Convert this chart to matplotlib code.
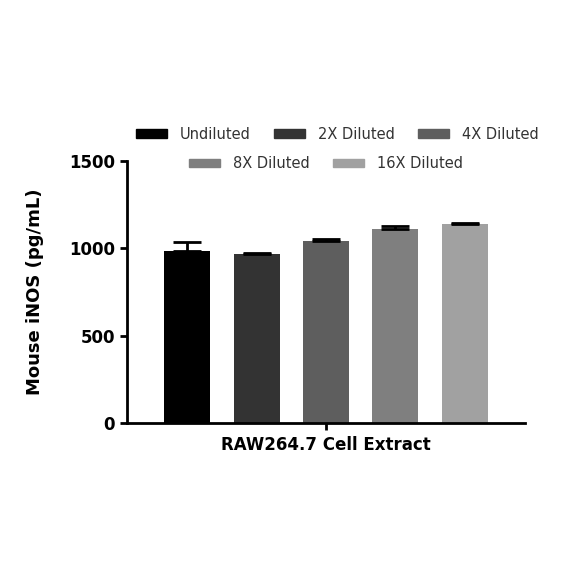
import matplotlib.pyplot as plt
from matplotlib.patches import Patch

labels = ["Undiluted", "2X Diluted", "4X Diluted", "8X Diluted", "16X Diluted"]
means = [982, 966, 1043, 1111, 1138]
sems = [52, 6, 12, 17, 8]
colors = ["#000000", "#333333", "#5e5e5e", "#7f7f7f", "#a1a1a1"]

plt.rcParams['font.family'] = ['DejaVu Sans']

fig = plt.figure(figsize=(5.84, 5.84), dpi=100)
ax = fig.add_axes([0.2175, 0.2757, 0.6815, 0.4486])

x = [0, 1, 2, 3, 4]
for i in range(len(labels)):
    ax.bar(x[i], means[i], width=0.66, color=colors[i], zorder=2)
    ax.errorbar(x[i], means[i], yerr=[[0], [sems[i]]], fmt="none",
                ecolor="black", elinewidth=2, capsize=10, capthick=2, zorder=3)

ax.set_ylim(0, 1500)
ax.set_xlim(-0.87, 4.87)
ax.set_yticks([0, 500, 1000, 1500])
ax.set_xticks([2])
ax.set_xticklabels([""])
ax.set_xlabel("RAW264.7 Cell Extract", fontsize=12, fontweight="bold", labelpad=1)
ax.set_ylabel("Mouse iNOS (pg/mL)", fontsize=13, fontweight="bold", labelpad=18)
for lab in ax.get_yticklabels():
    lab.set_fontweight("bold")
    lab.set_fontsize(12)
ax.tick_params(width=2, length=5, direction="out")
ax.spines["top"].set_visible(False)
ax.spines["right"].set_visible(False)
ax.spines["left"].set_linewidth(2)
ax.spines["bottom"].set_linewidth(2)

handles = [Patch(color=c) for c in colors]
leg1 = fig.legend(handles[:3], labels[:3], ncol=3, loc="center",
                  bbox_to_anchor=(0.578, 0.77), frameon=False, fontsize=10.5,
                  handlelength=2.1, handleheight=0.5, columnspacing=1.6,
                  handletextpad=0.9, labelcolor="#333333")
leg2 = fig.legend(handles[3:], labels[3:], ncol=2, loc="center",
                  bbox_to_anchor=(0.558, 0.72), frameon=False, fontsize=10.5,
                  handlelength=2.1, handleheight=0.5, columnspacing=1.6,
                  handletextpad=0.9, labelcolor="#333333")

fig.savefig("out.png", dpi=100)
